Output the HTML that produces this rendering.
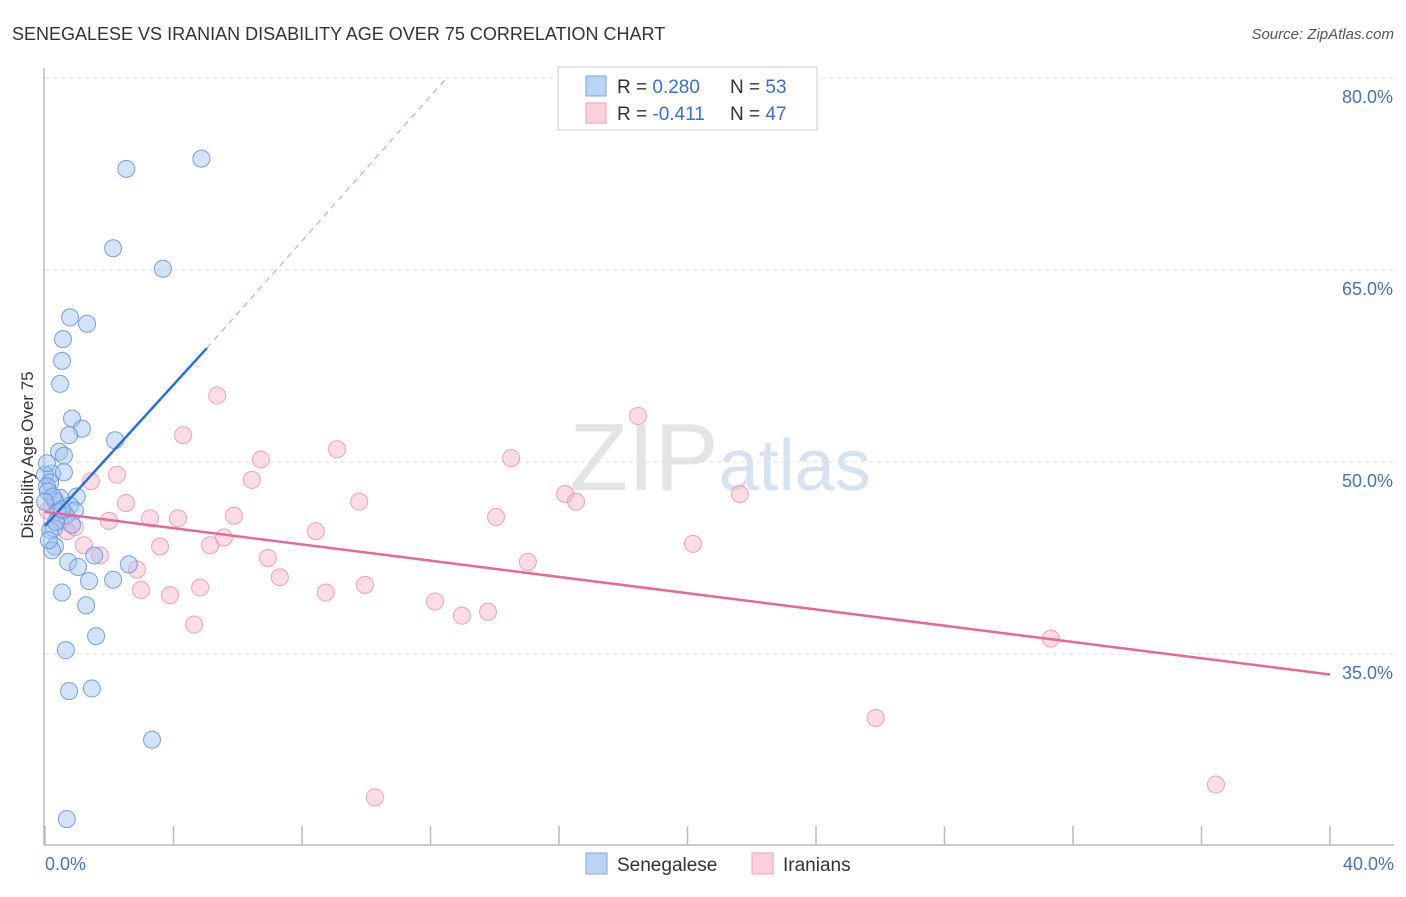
<!DOCTYPE html>
<html><head><meta charset="utf-8">
<style>
body{margin:0;background:#fff;font-family:"Liberation Sans",sans-serif;}
svg text{font-family:"Liberation Sans",sans-serif;}
</style></head><body>
<svg id="chart" width="1406" height="892" xmlns="http://www.w3.org/2000/svg">
<text x="12" y="40" font-size="18" fill="#333">SENEGALESE VS IRANIAN DISABILITY AGE OVER 75 CORRELATION CHART</text>
<text x="1394" y="39" font-size="15" fill="#555" text-anchor="end" font-style="italic">Source: ZipAtlas.com</text>
<text x="720" y="490" font-size="96" fill="#e4e4e4" text-anchor="middle" font-family="Liberation Serif">ZIP<tspan fill="#d4e2f2" font-family="Liberation Sans" font-size="72">atlas</tspan></text>
<g id="grid"></g>
<line x1="44" y1="68" x2="44" y2="845" stroke="#bbb" stroke-width="1.5"/>
<line x1="44" y1="845" x2="1394" y2="845" stroke="#bbb" stroke-width="1.5"/>
<g id="xticks"></g>
<text transform="translate(33,455) rotate(-90)" font-size="17" fill="#333" text-anchor="middle">Disability Age Over 75</text>
<text x="45" y="870" font-size="18" fill="#4472c4">0.0%</text>
<text x="1394" y="870" font-size="18" fill="#4472c4" text-anchor="end">40.0%</text>
<g id="pts"></g>
<g id="lines"></g>
<g>
<rect x="558" y="67" width="259" height="63" fill="#fff" stroke="#ccc"/>
<rect x="586" y="76" width="20" height="20" fill="#bcd4f4" stroke="#7aa6e0"/>
<rect x="586" y="103" width="20" height="20" fill="#fbcfdc" stroke="#f0a0b8"/>
<text x="617" y="93" font-size="19" fill="#333">R = <tspan fill="#3a6fd8">0.280</tspan><tspan x="730">N = </tspan><tspan fill="#3a6fd8">53</tspan></text>
<text x="617" y="120" font-size="19" fill="#333">R = <tspan fill="#3a6fd8">-0.411</tspan><tspan x="730">N = </tspan><tspan fill="#3a6fd8">47</tspan></text>
</g>
<g>
<rect x="586" y="853" width="21" height="21" fill="#bcd4f4" stroke="#7aa6e0"/>
<text x="617" y="871" font-size="19" fill="#333">Senegalese</text>
<rect x="752" y="853" width="21" height="21" fill="#fbcfdc" stroke="#f0a0b8"/>
<text x="783" y="871" font-size="19" fill="#333">Iranians</text>
</g>
</svg>
<script>
const yTicks=[80,65,50,35];
const yTickLabels=["80.0%","65.0%","50.0%","35.0%"];
const xTickVals=[0,4,8,12,16,20,24,28,32,36,40];
const senX=[2.53,4.87,2.12,3.67,0.78,1.31,0.56,0.53,0.47,0.84,1.15,0.75,2.18,0.44,0.59,0.22,0,0.16,0.06,0.99,0.47,0.31,0.78,0.93,0.65,0.84,0.28,0.16,0.40,0.31,0.22,1.53,0.72,1.03,2.61,1.37,2.12,0.53,1.28,1.59,0.65,0.75,1.46,3.33,0.68,0.09,0.25,0,0.34,0.53,0.12,0.59,0.06];
const senY=[72.9,73.7,66.7,65.1,61.3,60.8,59.6,57.9,56.1,53.4,52.6,52.1,51.7,50.8,50.5,49.1,49.0,48.4,48.1,47.3,47.2,47.0,46.6,46.2,45.8,45.1,44.8,44.7,46.1,43.4,43.1,42.7,42.2,41.8,42.0,40.7,40.8,39.8,38.8,36.4,35.3,32.1,32.3,28.3,22.1,47.7,47.3,46.9,45.3,46.3,43.9,49.2,49.9];
const iraX=[5.36,18.46,4.30,9.09,6.72,14.51,2.24,1.43,6.44,16.19,21.63,16.53,2.52,9.78,0.31,3.27,4.14,5.88,14.04,1.99,0.93,0.68,5.57,8.43,5.14,1.21,3.58,20.17,1.71,6.94,15.03,2.86,7.31,4.83,2.99,3.89,9.96,8.74,12.14,13.79,12.98,4.64,31.31,25.86,36.45,10.27,0.09,0.47];
const iraY=[55.2,53.6,52.1,51.0,50.2,50.3,49.0,48.5,48.6,47.5,47.5,46.9,46.8,46.9,46.9,45.6,45.6,45.8,45.7,45.4,44.9,44.6,44.1,44.6,43.5,43.5,43.4,43.6,42.7,42.5,42.2,41.6,41.0,40.2,40.0,39.6,40.4,39.8,39.1,38.3,38.0,37.3,36.2,30.0,24.8,23.8,46.2,45.4];
const senLineX=[0,5.04,12.5];
const senLineY=[45.0,58.9,80.0];
const iraLineX=[0,40];
const iraLineY=[46.1,33.4];
const X0=45,X1=1330,Y80=78,PPU=12.8;
function sx(v){return X0+(X1-X0)*v/40;}
function sy(v){return Y80+(80-v)*PPU;}
const NS="http://www.w3.org/2000/svg";
function mk(t,a,p){const e=document.createElementNS(NS,t);for(const k in a)e.setAttribute(k,a[k]);p.appendChild(e);return e;}
const grid=document.getElementById('grid');
yTicks.forEach((v,i)=>{
 const l=mk('line',{x1:45,x2:1394,y1:sy(v),y2:sy(v),stroke:'#ddd','stroke-dasharray':'4,4'},grid);
 
 
 const t=mk('text',{x:1393,y:sy(v)+25,'font-size':18,fill:'#4472c4','text-anchor':'end'},grid);
 t.textContent=yTickLabels[i];
 
 
});
const xt=document.getElementById('xticks');
xTickVals.forEach(v=>{
 const l=mk('line',{x1:sx(v),x2:sx(v),y1:826,y2:845,stroke:'#bbb','stroke-width':1.5},xt);
 
 
});
const pts=document.getElementById('pts');
iraX.forEach((v,i)=>{
 const c=mk('circle',{cx:sx(v),cy:sy(iraY[i]),r:8.5,fill:'rgba(248,180,200,0.45)',stroke:'rgba(236,140,170,0.8)','stroke-width':1},pts);
 
 
});
senX.forEach((v,i)=>{
 const c=mk('circle',{cx:sx(v),cy:sy(senY[i]),r:8.5,fill:'rgba(160,195,240,0.45)',stroke:'rgba(90,140,220,0.8)','stroke-width':1},pts);
 
 
});
const ln=document.getElementById('lines');
const b1=mk('line',{x1:sx(senLineX[0]),y1:sy(senLineY[0]),x2:sx(senLineX[1]),y2:sy(senLineY[1]),stroke:'#2a6fd8','stroke-width':2.5},ln);


const b2=mk('line',{x1:sx(senLineX[1]),y1:sy(senLineY[1]),x2:sx(senLineX[2]),y2:sy(senLineY[2]),stroke:'#9bbbe8','stroke-width':1.2,'stroke-dasharray':'6,5'},ln);


const p1=mk('line',{x1:sx(iraLineX[0]),y1:sy(iraLineY[0]),x2:sx(iraLineX[1]),y2:sy(iraLineY[1]),stroke:'#e8679a','stroke-width':2.5},ln);


</script>
</body></html>
